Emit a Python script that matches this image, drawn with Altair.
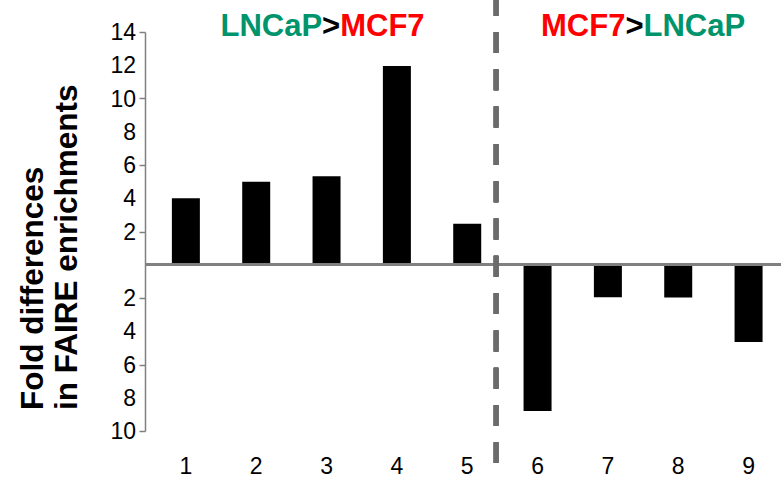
import altair as alt
import pandas as pd

# Fold differences in FAIRE enrichment per site (positive: LNCaP>MCF7, negative: MCF7>LNCaP)
sites = [1, 2, 3, 4, 5, 6, 7, 8, 9]
fold_diff = [4.0, 5.0, 5.33, 11.95, 2.47, -8.8, -1.95, -1.97, -4.65]
y_ticks = [-10, -8, -6, -4, -2, 0, 2, 4, 6, 8, 10, 12, 14]
title_left = ["LNCaP", ">", "MCF7"]
title_right = ["MCF7", ">", "LNCaP"]
y_title = ["Fold differences", "in FAIRE enrichments"]

FONT = "Liberation Sans"
GREEN = "#00946c"
RED = "#ff0000"
W, H = 636, 399
LABEL_FS = 23

bars_df = pd.DataFrame({"site": sites, "value": fold_diff})
yticks_df = pd.DataFrame({
    "v": y_ticks,
    "label": ["" if v == 0 else str(abs(v)) for v in y_ticks],
})

x_scale = alt.Scale(domain=[0.49, 9.39], nice=False, zero=False)
y_scale = alt.Scale(domain=[-10, 14], nice=False)

bars = alt.Chart(bars_df).mark_bar(size=28, color="black").encode(
    x=alt.X("site:Q", scale=x_scale, axis=None),
    y=alt.Y(
        "value:Q", scale=y_scale, stack=None,
        axis=alt.Axis(
            values=y_ticks, labels=False, grid=False, title=None,
            domainColor="#808080", domainWidth=1.5,
            tickColor="#808080", tickSize=6, tickWidth=1.5,
        ),
    ),
)

# Category numbers under the bars
x_labels = alt.Chart(bars_df).mark_text(
    font=FONT, fontSize=LABEL_FS, color="black", align="center", baseline="alphabetic",
).encode(
    x=alt.X("site:Q", scale=x_scale),
    y=alt.value(H + 43),
    text=alt.Text("site:Q", format="d"),
)

# Y tick labels show magnitudes on both sides of zero
y_labels = alt.Chart(yticks_df).mark_text(
    font=FONT, fontSize=LABEL_FS, color="black", align="right", baseline="middle", dy=1,
).encode(
    x=alt.value(-9),
    y=alt.Y("v:Q", scale=y_scale),
    text="label:N",
)

zero_line = alt.Chart(bars_df).mark_rule(color="#808080", strokeWidth=2.5).encode(
    y=alt.Y(datum=0, scale=y_scale)
)

divider = alt.Chart(bars_df).mark_rule(
    color="#6b6b6b", strokeWidth=4.5, strokeDash=[21, 16.3], strokeDashOffset=5.3
).encode(
    x=alt.X(datum=5.41, scale=x_scale),
    y=alt.value(-32),
    y2=alt.value(H + 32),
)

# Approximate advance widths (em) of bold Arial-metric glyphs used in the headers
EM = {"L": 0.611, "N": 0.722, "C": 0.722, "a": 0.556, "P": 0.667,
      ">": 0.584, "M": 0.833, "F": 0.611, "7": 0.556}
FS = 31


def header(parts, center, shift=0):
    colors = {"LNCaP": GREEN, "MCF7": RED, ">": "black"}
    widths = [sum(EM[ch] for ch in p) * FS for p in parts]
    start = -sum(widths) / 2 + shift
    layers = []
    for p, w in zip(parts, widths):
        layers.append(
            alt.Chart(pd.DataFrame({"x": [center], "t": [p]})).mark_text(
                font=FONT, fontSize=FS, fontWeight="bold", color=colors[p],
                align="left", baseline="alphabetic", dx=start,
            ).encode(
                x=alt.X("x:Q", scale=x_scale),
                y=alt.value(4),
                text="t:N",
            )
        )
        start += w
    return layers


ytitle_layers = []
for line, xpos in zip(y_title, [-111, -77]):
    ytitle_layers.append(
        alt.Chart(pd.DataFrame({"t": [line]})).mark_text(
            font=FONT, fontSize=31.5, fontWeight="bold", color="black",
            angle=270, align="left", baseline="middle",
        ).encode(x=alt.value(xpos), y=alt.value(378), text="t:N")
    )

chart = alt.layer(
    bars, zero_line, divider, x_labels, y_labels,
    *header(title_left, 3, shift=-4), *header(title_right, 7.5),
    *ytitle_layers,
).properties(
    width=W, height=H,
    autosize=alt.AutoSizeParams(type="none"),
    padding={"left": 145, "top": 32, "right": 0, "bottom": 50},
    background="white",
).configure_view(stroke=None)

chart.save("out.html", embed_options={"renderer": "svg", "actions": False})
